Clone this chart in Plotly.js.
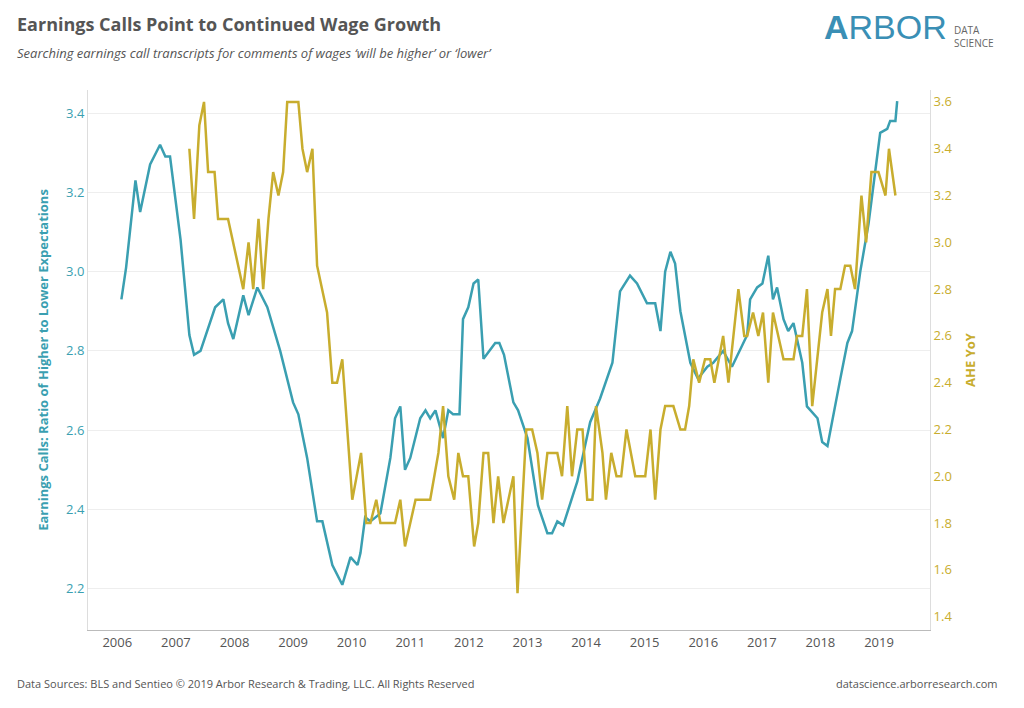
<!DOCTYPE html>
<html><head><meta charset="utf-8">
<script src="https://cdn.plot.ly/plotly-3.0.1.min.js"></script>
<style>body{margin:0;background:#fff}#c{width:1024px;height:708px}</style></head>
<body><div id="c"></div>
<script>
const callsX=[2006.07,2006.15,2006.31,2006.39,2006.56,2006.73,2006.82,2006.90,2007.08,2007.23,2007.31,2007.42,2007.67,2007.81,2007.89,2007.98,2008.15,2008.24,2008.39,2008.56,2008.78,2009.00,2009.09,2009.24,2009.41,2009.50,2009.67,2009.84,2009.98,2010.10,2010.15,2010.23,2010.32,2010.49,2010.66,2010.74,2010.83,2010.91,2011.00,2011.17,2011.26,2011.34,2011.43,2011.56,2011.65,2011.73,2011.84,2011.90,2011.99,2012.08,2012.16,2012.25,2012.45,2012.52,2012.60,2012.76,2012.84,2013.00,2013.18,2013.34,2013.42,2013.51,2013.61,2013.85,2014.07,2014.24,2014.45,2014.58,2014.75,2014.87,2015.04,2015.18,2015.27,2015.35,2015.44,2015.52,2015.61,2015.78,2015.91,2016.07,2016.17,2016.34,2016.49,2016.75,2016.80,2016.92,2017.01,2017.11,2017.19,2017.26,2017.37,2017.45,2017.54,2017.69,2017.77,2017.95,2018.03,2018.12,2018.34,2018.46,2018.54,2018.68,2018.82,2019.02,2019.14,2019.19,2019.28,2019.31];
const callsY=[2.93,3.01,3.23,3.15,3.27,3.32,3.29,3.29,3.08,2.84,2.79,2.80,2.91,2.93,2.87,2.83,2.94,2.89,2.96,2.91,2.80,2.67,2.64,2.53,2.37,2.37,2.26,2.21,2.28,2.26,2.29,2.38,2.37,2.39,2.53,2.63,2.66,2.50,2.53,2.63,2.65,2.63,2.65,2.58,2.65,2.64,2.64,2.88,2.91,2.97,2.98,2.78,2.82,2.82,2.79,2.67,2.65,2.58,2.41,2.34,2.34,2.37,2.36,2.47,2.62,2.68,2.77,2.95,2.99,2.97,2.92,2.92,2.85,3.00,3.05,3.02,2.90,2.77,2.73,2.76,2.77,2.80,2.76,2.84,2.93,2.96,2.97,3.04,2.93,2.96,2.88,2.85,2.87,2.77,2.66,2.63,2.57,2.56,2.73,2.82,2.85,3.00,3.12,3.35,3.36,3.38,3.38,3.43];
const aheX=[2007.23,2007.31,2007.40,2007.48,2007.55,2007.66,2007.72,2007.89,2008.15,2008.24,2008.32,2008.41,2008.49,2008.58,2008.66,2008.75,2008.83,2008.90,2009.09,2009.16,2009.24,2009.33,2009.41,2009.58,2009.67,2009.75,2009.84,2010.01,2010.16,2010.25,2010.32,2010.42,2010.49,2010.74,2010.83,2010.91,2011.09,2011.34,2011.48,2011.56,2011.65,2011.75,2011.82,2011.90,2011.99,2012.09,2012.16,2012.25,2012.33,2012.42,2012.50,2012.59,2012.76,2012.83,2012.98,2013.08,2013.17,2013.25,2013.34,2013.51,2013.59,2013.68,2013.76,2013.85,2013.94,2014.02,2014.11,2014.17,2014.28,2014.34,2014.43,2014.52,2014.60,2014.69,2014.84,2015.01,2015.10,2015.18,2015.27,2015.35,2015.49,2015.61,2015.69,2015.76,2015.83,2015.93,2016.03,2016.12,2016.19,2016.34,2016.43,2016.60,2016.70,2016.75,2016.85,2016.94,2017.02,2017.11,2017.19,2017.37,2017.54,2017.60,2017.69,2017.77,2017.86,2018.03,2018.12,2018.18,2018.25,2018.34,2018.42,2018.51,2018.59,2018.70,2018.78,2018.87,2018.99,2019.11,2019.17,2019.28];
const aheY=[3.4,3.1,3.5,3.6,3.3,3.3,3.1,3.1,2.8,3.0,2.8,3.1,2.8,3.1,3.3,3.2,3.3,3.6,3.6,3.4,3.3,3.4,2.9,2.7,2.4,2.4,2.5,1.9,2.1,1.8,1.8,1.9,1.8,1.8,1.9,1.7,1.9,1.9,2.1,2.3,2.0,1.9,2.1,2.0,2.0,1.7,1.8,2.1,2.1,1.8,2.0,1.8,2.0,1.5,2.2,2.2,2.1,1.9,2.1,2.1,2.0,2.3,2.0,2.2,2.2,1.9,1.9,2.3,2.1,1.9,2.1,2.0,2.0,2.2,2.0,2.0,2.2,1.9,2.2,2.3,2.3,2.2,2.2,2.3,2.5,2.4,2.5,2.5,2.4,2.6,2.4,2.8,2.6,2.6,2.7,2.6,2.7,2.4,2.7,2.5,2.5,2.6,2.6,2.8,2.3,2.7,2.8,2.6,2.8,2.8,2.9,2.9,2.8,3.2,3.0,3.3,3.3,3.2,3.4,3.2];
const years=[2006,2007,2008,2009,2010,2011,2012,2013,2014,2015,2016,2017,2018,2019];
const leftTicks=[2.2,2.4,2.6,2.8,3.0,3.2,3.4];
const rightTicks=[1.4,1.6,1.8,2.0,2.2,2.4,2.6,2.8,3.0,3.2,3.4,3.6];
const teal='#3a9fb1', gold='#c8ad2e';
const F='Open Sans, Noto Sans, sans-serif';
Plotly.newPlot('c',[
 {x:callsX,y:callsY,type:'scatter',mode:'lines',line:{color:teal,width:2.5},hoverinfo:'skip'},
 {x:aheX,y:aheY,type:'scatter',mode:'lines',line:{color:gold,width:2.5},yaxis:'y2',hoverinfo:'skip'}
],{
 width:1024,height:708,showlegend:false,paper_bgcolor:'#fff',plot_bgcolor:'#fff',
 margin:{l:88,r:94,t:90,b:78},
 xaxis:{range:[2005.5,2019.87],tickvals:years,ticktext:years.map(String),showgrid:false,zeroline:false,
   showline:true,linecolor:'#bbb',ticks:'',tickfont:{family:F,size:13,color:'#555'}},
 yaxis:{range:[2.096,3.458],tickvals:leftTicks,ticktext:leftTicks.map(v=>v.toFixed(1)),showgrid:true,gridcolor:'#eeeeee',zeroline:false,
   showline:true,linecolor:'#ddd',ticks:'',tickfont:{family:F,size:13,color:teal},
   title:{text:'Earnings Calls: Ratio of Higher to Lower Expectations',font:{family:F,size:13,color:teal,weight:'bold'},standoff:14}},
 yaxis2:{overlaying:'y',side:'right',range:[1.343,3.651],tickvals:rightTicks,ticktext:rightTicks.map(v=>v.toFixed(1)),showgrid:false,zeroline:false,
   showline:true,linecolor:'#ddd',ticks:'',tickfont:{family:F,size:13,color:gold},
   title:{text:'AHE YoY',font:{family:F,size:13,color:gold,weight:'bold'},standoff:14}},
 annotations:[
  {xref:'paper',yref:'paper',x:-0.087,y:1.148,xanchor:'left',yanchor:'top',showarrow:false,text:'<b>Earnings Calls Point to Continued Wage Growth</b>',font:{family:F,size:18,color:'#555'}},
  {xref:'paper',yref:'paper',x:-0.087,y:1.088,xanchor:'left',yanchor:'top',showarrow:false,text:'<i>Searching earnings call transcripts for comments of wages \u2018will be higher\u2019 or \u2018lower\u2019</i>',font:{family:F,size:13,color:'#555'}},
  {xref:'paper',yref:'paper',x:1.022,y:1.155,xanchor:'right',yanchor:'top',showarrow:false,text:'<b>A</b>RBOR',font:{family:'Liberation Sans, sans-serif',size:34,color:'#3a8fb5'}},
  {xref:'paper',yref:'paper',x:1.026,y:1.128,xanchor:'left',yanchor:'top',showarrow:false,align:'left',text:'DATA<br>SCIENCE',font:{family:F,size:10,color:'#666'}},
  {xref:'paper',yref:'paper',x:-0.087,y:-0.082,xanchor:'left',yanchor:'top',showarrow:false,text:'Data Sources: BLS and Sentieo \u00a9 2019 Arbor Research & Trading, LLC. All Rights Reserved',font:{family:F,size:11,color:'#555'}},
  {xref:'paper',yref:'paper',x:1.083,y:-0.082,xanchor:'right',yanchor:'top',showarrow:false,text:'datascience.arborresearch.com',font:{family:F,size:11,color:'#555'}}
 ]
},{staticPlot:true});
</script></body></html>
